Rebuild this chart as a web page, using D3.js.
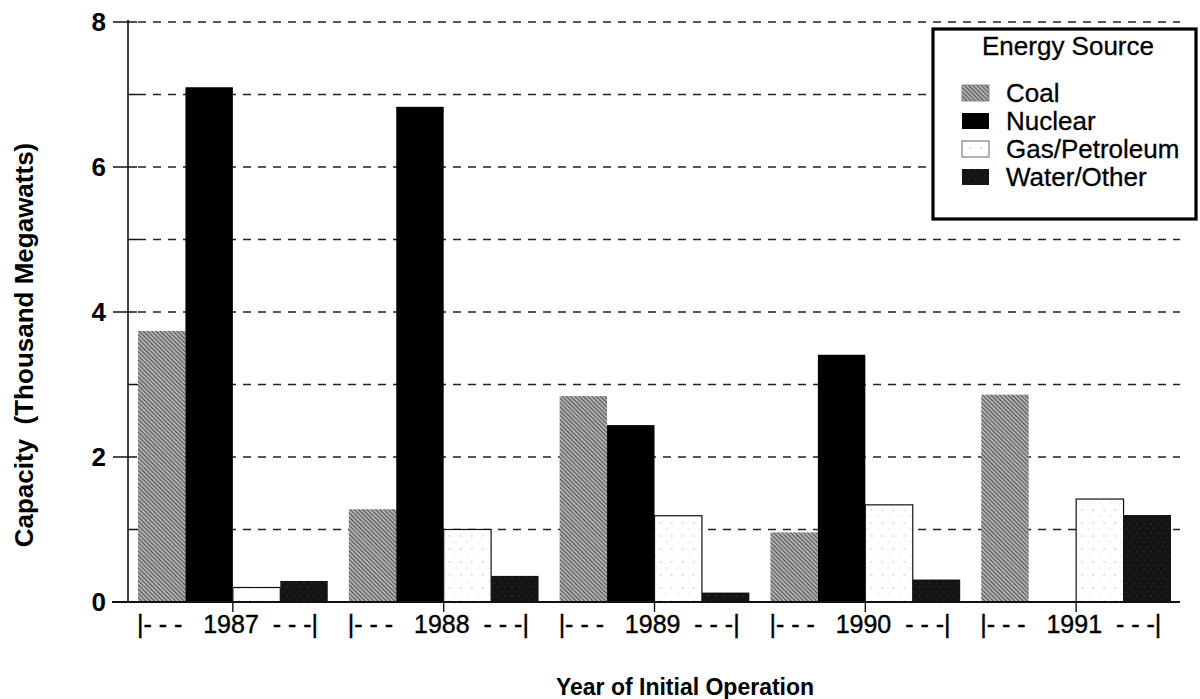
<html>
<script src="https://d3js.org/d3.v7.min.js"></script>
<body style="margin:0;background:#fff">
</body>
<script>

    // values (thousand megawatts)
    let years = ["1987","1988","1989","1990","1991"];
    let sources = ["Coal","Nuclear","Gas/Petroleum","Water/Other"];
    let coal = [3.74, 1.28, 2.84, 0.96, 2.86];
    let nuclear = [7.1, 6.83, 2.44, 3.41, 0];
    let gasPetroleum = [0.2, 1.0, 1.19, 1.34, 1.42];
    let waterOther = [0.29, 0.36, 0.13, 0.31, 1.2];
    let yTickLabels = [0, 2, 4, 6, 8];
    let gridTicks = [1, 2, 3, 4, 5, 6, 7, 8];

    let series = [coal, nuclear, gasPetroleum, waterOther];
    let fills = ["url(#coal)", "#000", "url(#gas)", "url(#water)"];
    let strokes = ["none", "none", "#111", "none"];

    let font = "'Liberation Sans', Arial, sans-serif";

    let svg = d3.select("body").append("svg")
        .attr("width", 1200)
        .attr("height", 699);

    // textures for the bars
    let defs = svg.append("defs");
    let pc = defs.append("pattern").attr("id","coal")
        .attr("patternUnits","userSpaceOnUse")
        .attr("width",3).attr("height",3)
        .attr("patternTransform","rotate(-45)");
    pc.append("rect").attr("width",3).attr("height",3).attr("fill","#b8b8b8");
    pc.append("rect").attr("width",1.2).attr("height",3).attr("fill","#555");

    let pg = defs.append("pattern").attr("id","gas")
        .attr("patternUnits","userSpaceOnUse")
        .attr("width",11).attr("height",13);
    pg.append("rect").attr("width",11).attr("height",13).attr("fill","#fff");
    pg.append("circle").attr("cx",2).attr("cy",3).attr("r",0.7).attr("fill","#aaa");
    pg.append("circle").attr("cx",8).attr("cy",9).attr("r",0.6).attr("fill","#bbb");

    let pw = defs.append("pattern").attr("id","water")
        .attr("patternUnits","userSpaceOnUse")
        .attr("width",7).attr("height",9);
    pw.append("rect").attr("width",7).attr("height",9).attr("fill","#141414");
    pw.append("circle").attr("cx",2).attr("cy",2).attr("r",0.6).attr("fill","#555");
    pw.append("circle").attr("cx",5).attr("cy",7).attr("r",0.5).attr("fill","#444");

    // scales
    let y = d3.scaleLinear().domain([0, 8]).range([602, 22]);
    let x0 = d3.scaleBand().domain(years).range([138, 1171]).paddingInner(0.1);
    let x1 = d3.scaleBand().domain(sources).range([0, x0.bandwidth()]);

    let axisX = 128;
    let plotRight = 1180;

    // dashed grid lines
    svg.append("g").selectAll("line").data(gridTicks).join("line")
        .attr("x1", 138).attr("x2", plotRight)
        .attr("y1", d => y(d)).attr("y2", d => y(d))
        .attr("stroke", "#222").attr("stroke-width", 1.4)
        .attr("stroke-dasharray", "8,7");

    // bars
    let groups = svg.append("g").selectAll("g").data(years).join("g")
        .attr("transform", d => "translate(" + x0(d) + ",0)");
    groups.selectAll("rect")
        .data((d, i) => sources.map((s, j) => ({s: s, j: j, v: series[j][i]})))
        .join("rect")
        .filter(d => d.v > 0)
        .attr("x", d => x1(d.s))
        .attr("width", x1.bandwidth())
        .attr("y", d => y(d.v))
        .attr("height", d => y(0) - y(d.v))
        .attr("fill", d => fills[d.j])
        .attr("stroke", d => strokes[d.j])
        .attr("stroke-width", 1.2);

    // y axis
    svg.append("line")
        .attr("x1", axisX).attr("x2", axisX)
        .attr("y1", y(8) - 2).attr("y2", y(0))
        .attr("stroke", "#111").attr("stroke-width", 1.6);
    svg.append("g").selectAll("line").data(gridTicks.concat([0])).join("line")
        .attr("x1", d => d % 2 == 0 ? 113 : axisX)
        .attr("x2", d => d % 2 == 0 ? 137 : 138)
        .attr("y1", d => y(d)).attr("y2", d => y(d))
        .attr("stroke", "#111").attr("stroke-width", 1.5);
    svg.append("g").selectAll("text").data(yTickLabels).join("text")
        .attr("x", 106).attr("y", d => y(d))
        .attr("dy", "0.36em")
        .attr("text-anchor", "end")
        .style("font-family", font).style("font-weight", "bold").style("font-size", "26px")
        .text(d => d);

    // x axis
    svg.append("line")
        .attr("x1", 112).attr("x2", plotRight)
        .attr("y1", y(0)).attr("y2", y(0))
        .attr("stroke", "#111").attr("stroke-width", 2);
    svg.append("g").selectAll("line").data(years).join("line")
        .attr("x1", d => x0(d) + x0.bandwidth()/2).attr("x2", d => x0(d) + x0.bandwidth()/2)
        .attr("y1", y(0)).attr("y2", y(0) + 10)
        .attr("stroke", "#111").attr("stroke-width", 1.4);
    svg.append("g").selectAll("text").data(years).join("text")
        .attr("x", d => x0(d) - 1)
        .attr("y", 633)
        .style("white-space", "pre")
        .style("font-family", font).style("font-size", "25px")
        .attr("stroke", "#000").attr("stroke-width", 0.4)
        .text(d => "|- - -   " + d + "  - - -|");

    // axis titles
    svg.append("text")
        .attr("x", 685).attr("y", 695)
        .attr("text-anchor", "middle")
        .style("font-family", font).style("font-weight", "bold").style("font-size", "23px")
        .text("Year of Initial Operation");
    svg.append("text")
        .attr("transform", "translate(33,345) rotate(-90)")
        .attr("text-anchor", "middle")
        .style("white-space", "pre")
        .style("font-family", font).style("font-weight", "bold").style("font-size", "26px")
        .text("Capacity  (Thousand Megawatts)");

    // legend
    let legend = svg.append("g");
    legend.append("rect")
        .attr("x", 933).attr("y", 29).attr("width", 263).attr("height", 190)
        .attr("fill", "#fff").attr("stroke", "#000").attr("stroke-width", 3.2);
    legend.append("text")
        .attr("x", 1068).attr("y", 55)
        .attr("text-anchor", "middle")
        .style("font-family", font).style("font-size", "26px")
        .attr("stroke", "#000").attr("stroke-width", 0.3)
        .text("Energy Source");
    let items = legend.selectAll("g.item").data(sources).join("g")
        .attr("class", "item")
        .attr("transform", (d, i) => "translate(0," + (102 + i * 28) + ")");
    items.append("rect")
        .attr("x", 962).attr("y", -17).attr("width", 27).attr("height", 16)
        .attr("fill", (d, i) => fills[i])
        .attr("stroke", (d, i) => i == 2 ? "#666" : (i == 0 ? "#888" : "none"))
        .attr("stroke-width", 1);
    items.append("text")
        .attr("x", 1006).attr("y", 0)
        .style("font-family", font).style("font-size", "26px")
        .attr("stroke", "#000").attr("stroke-width", 0.3)
        .text(d => d);

</script>
</html>
